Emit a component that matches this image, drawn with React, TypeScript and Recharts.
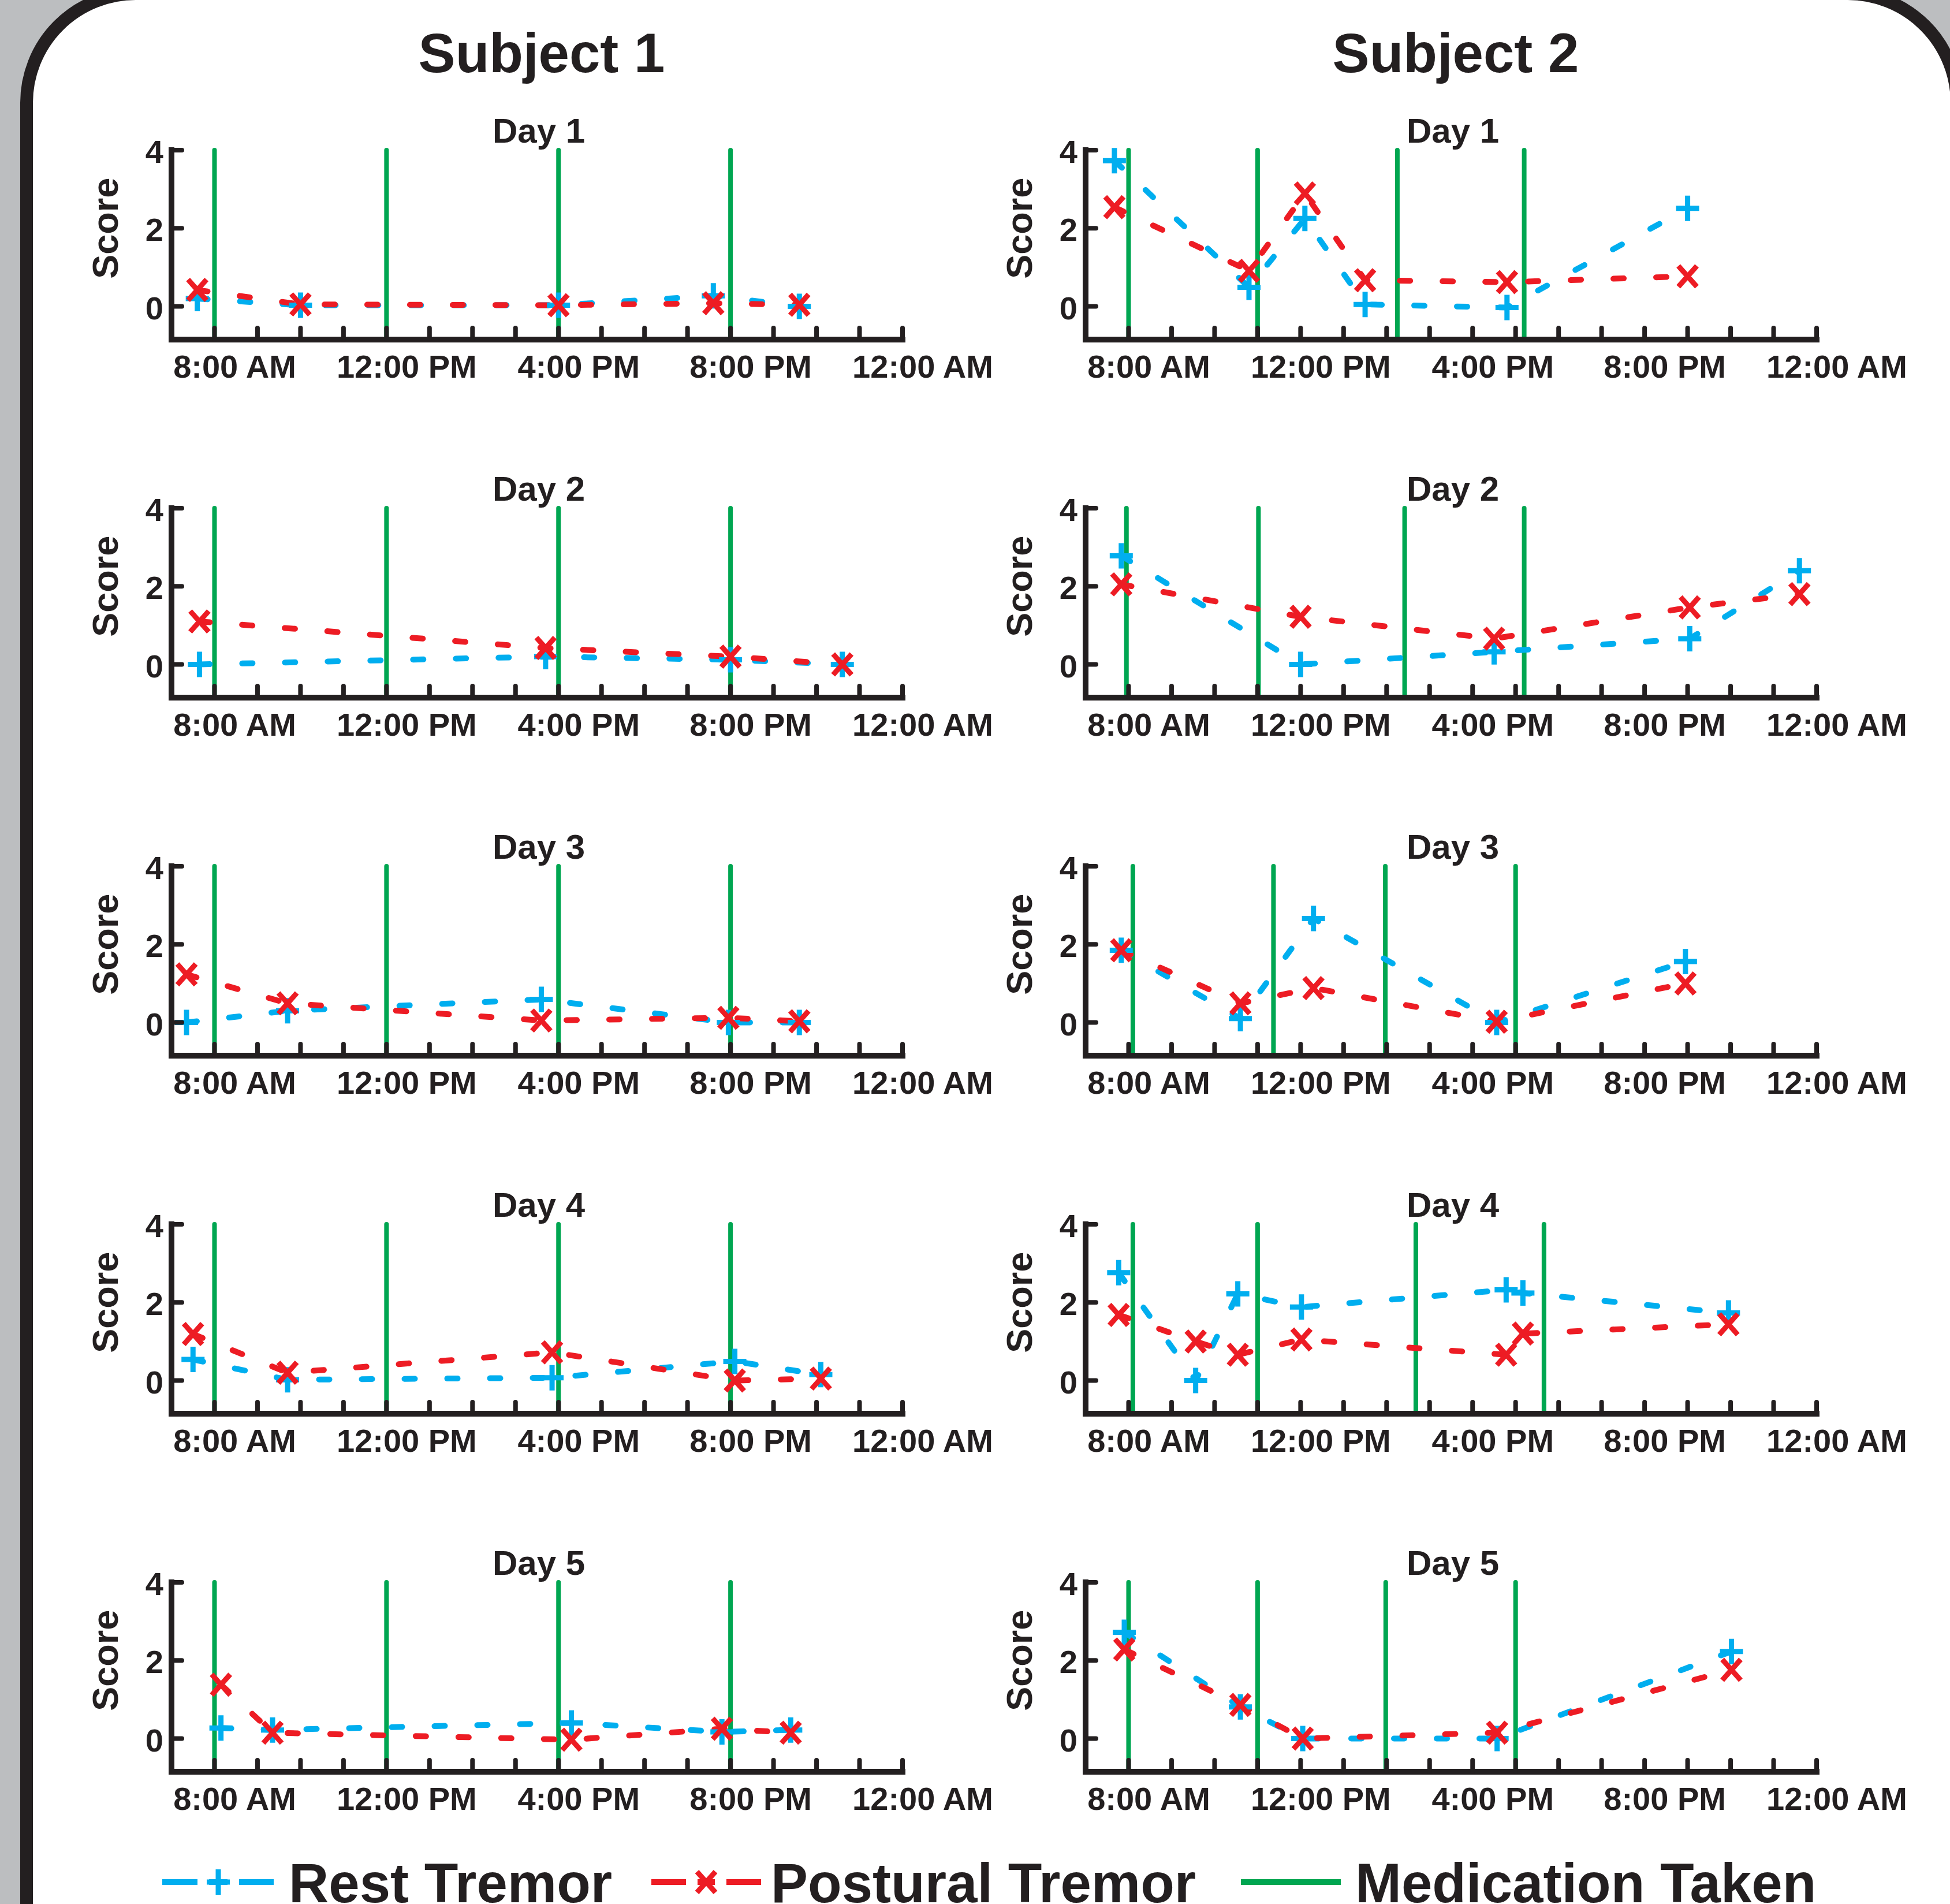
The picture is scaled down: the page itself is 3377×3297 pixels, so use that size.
import { LineChart, Line, XAxis, YAxis, ReferenceLine } from 'recharts';

// times are hours since midnight, scores 0-4
const s1d1Time = [7.6, 10.0, 16.0, 19.6, 21.6];
const s1d1Rest = [0.2, 0.03, 0.03, 0.27, 0.0];
const s1d1Post = [0.42, 0.05, 0.03, 0.08, 0.04];
const s1d1Meds = [8, 12, 16, 20];

const s1d2Time = [7.65, 15.7, 20.0, 22.6];
const s1d2Rest = [0.0, 0.2, 0.12, 0.0];
const s1d2Post = [1.1, 0.42, 0.2, 0.0];
const s1d2Meds = [8, 12, 16, 20];

const s1d3Time = [7.35, 9.7, 15.6, 19.95, 21.6];
const s1d3Rest = [0.0, 0.3, 0.59, 0.0, 0.0];
const s1d3Post = [1.23, 0.49, 0.05, 0.12, 0.03];
const s1d3Meds = [8, 12, 16, 20];

const s1d4Time = [7.5, 9.7, 15.85, 20.1, 22.1];
const s1d4Rest = [0.54, 0.02, 0.07, 0.49, 0.15];
const s1d4Post = [1.19, 0.2, 0.72, 0.0, 0.05];
const s1d4Meds = [8, 12, 16, 20];

const s1d5Time = [8.15, 9.35, 16.3, 19.8, 21.4];
const s1d5Rest = [0.27, 0.22, 0.4, 0.17, 0.22];
const s1d5Post = [1.38, 0.15, -0.03, 0.25, 0.15];
const s1d5Meds = [8, 12, 16, 20];

const s2d1Time = [7.67, 10.8, 12.1, 13.5, 16.8, 21.0];
const s2d1Rest = [3.73, 0.49, 2.25, 0.05, -0.03, 2.51];
const s2d1Post = [2.54, 0.91, 2.89, 0.67, 0.62, 0.77];
const s2d1Meds = [8.0, 11.0, 14.25, 17.2];

const s2d2Time = [7.83, 12.0, 16.5, 21.05, 23.6];
const s2d2Rest = [2.78, 0.0, 0.32, 0.66, 2.4];
const s2d2Post = [2.05, 1.22, 0.66, 1.46, 1.8];
const s2d2Meds = [7.95, 11.02, 14.42, 17.2];

const s2d3Time = [7.83, 10.6, 12.3, 16.56, 20.95];
const s2d3Rest = [1.85, 0.1, 2.66, 0.0, 1.56];
const s2d3Post = [1.85, 0.49, 0.88, 0.02, 1.0];
const s2d3Meds = [8.1, 11.37, 13.97, 17.0];

const s2d4Time = [7.77, 9.56, 10.54, 12.02, 16.78, 17.17, 21.95];
const s2d4Rest = [2.76, 0.0, 2.22, 1.88, 2.32, 2.24, 1.73];
const s2d4Post = [1.68, 1.0, 0.66, 1.05, 0.66, 1.2, 1.44];
const s2d4Meds = [8.1, 11.0, 14.68, 17.66];

const s2d5Time = [7.9, 10.6, 12.05, 16.57, 22.02];
const s2d5Rest = [2.72, 0.81, 0.0, 0.0, 2.23];
const s2d5Post = [2.28, 0.86, 0.0, 0.15, 1.76];
const s2d5Meds = [8.0, 11.0, 13.98, 17.0];

const subjects = ['Subject 1', 'Subject 2'];
const hourTicks = [7, 8, 9, 10, 11, 12, 13, 14, 15, 16, 17, 18, 19, 20, 21, 22, 23, 24];
const labelHours = [8, 12, 16, 20, 24];
const labelTexts = ['8:00 AM', '12:00 PM', '4:00 PM', '8:00 PM', '12:00 AM'];
const scoreTicks = [0, 2, 4];
const legendNames = ['Rest Tremor', 'Postural Tremor', 'Medication Taken'];

const INK = '#231f20';
const BLUE = '#00aeef';
const RED = '#ed1c24';
const GREEN = '#00a651';
const GRAY = '#bcbec0';
const FONT = '"Liberation Sans", Arial, Helvetica, sans-serif';

// layout
const PLOT_X = [297, 1880];
const PLOT_TOP = 260;
const ROW_STEP = 620;
const PLOT_W = 1266;
const PLOT_H = 328;
const Y_MIN = -0.85;
const M_TOP = 80;
const M_LEFT = 80;
const Y_AXIS_W = 120;
const M_RIGHT = 220;
const X_AXIS_H = 110;

const panels = [
  { col: 0, row: 0, time: s1d1Time, rest: s1d1Rest, post: s1d1Post, meds: s1d1Meds },
  { col: 0, row: 1, time: s1d2Time, rest: s1d2Rest, post: s1d2Post, meds: s1d2Meds },
  { col: 0, row: 2, time: s1d3Time, rest: s1d3Rest, post: s1d3Post, meds: s1d3Meds },
  { col: 0, row: 3, time: s1d4Time, rest: s1d4Rest, post: s1d4Post, meds: s1d4Meds },
  { col: 0, row: 4, time: s1d5Time, rest: s1d5Rest, post: s1d5Post, meds: s1d5Meds },
  { col: 1, row: 0, time: s2d1Time, rest: s2d1Rest, post: s2d1Post, meds: s2d1Meds },
  { col: 1, row: 1, time: s2d2Time, rest: s2d2Rest, post: s2d2Post, meds: s2d2Meds },
  { col: 1, row: 2, time: s2d3Time, rest: s2d3Rest, post: s2d3Post, meds: s2d3Meds },
  { col: 1, row: 3, time: s2d4Time, rest: s2d4Rest, post: s2d4Post, meds: s2d4Meds },
  { col: 1, row: 4, time: s2d5Time, rest: s2d5Rest, post: s2d5Post, meds: s2d5Meds },
];

const plusPath = (x: number, y: number) => `M${x - 20},${y}H${x + 20}M${x},${y - 22}V${y + 22}`;
const crossPath = (x: number, y: number) =>
  `M${x - 16},${y - 18}L${x + 16},${y + 18}M${x + 16},${y - 18}L${x - 16},${y + 18}`;

const PlusDot = (p: any) => (
  <path key={`r${p.index}`} d={plusPath(p.cx, p.cy)} stroke={BLUE} strokeWidth={9} fill="none" />
);
const CrossDot = (p: any) => (
  <path key={`p${p.index}`} d={crossPath(p.cx, p.cy)} stroke={RED} strokeWidth={9} fill="none" />
);

const XTick = (p: any) => {
  const { x, y, payload } = p;
  const li = labelHours.indexOf(payload.value);
  return (
    <g>
      {payload.value > 7 && (
        <line x1={x} x2={x} y1={y} y2={y - 20} stroke={INK} strokeWidth={8} strokeLinecap="round" />
      )}
      {li >= 0 && (
        <text x={x + 35} y={y + 66} textAnchor="middle" fontFamily={FONT} fontWeight="bold" fontSize={56} fill={INK}>
          {labelTexts[li]}
        </text>
      )}
    </g>
  );
};

const YTick = (p: any) => {
  const { x, y, payload } = p;
  return (
    <g>
      <line x1={x} x2={x + 18} y1={y} y2={y} stroke={INK} strokeWidth={8} strokeLinecap="round" />
      <text x={x - 14} y={y + 22} textAnchor="end" fontFamily={FONT} fontWeight="bold" fontSize={56} fill={INK}>
        {payload.value}
      </text>
    </g>
  );
};

function Panel({ col, row, time, rest, post, meds }: any) {
  const data = time.map((t: number, i: number) => ({ t, rest: rest[i], post: post[i] }));
  const left = PLOT_X[col] - M_LEFT - Y_AXIS_W;
  const top = PLOT_TOP + row * ROW_STEP - M_TOP;
  return (
    <div style={{ position: 'absolute', left, top }}>
      <LineChart
        width={M_LEFT + Y_AXIS_W + PLOT_W + M_RIGHT}
        height={M_TOP + PLOT_H + X_AXIS_H}
        data={data}
        margin={{ top: M_TOP, right: M_RIGHT, bottom: 0, left: M_LEFT }}
      >
        <XAxis
          type="number"
          dataKey="t"
          domain={[7, 24]}
          ticks={hourTicks}
          interval={0}
          height={X_AXIS_H}
          tickSize={0}
          tickMargin={0}
          tickLine={false}
          axisLine={{ stroke: INK, strokeWidth: 10, strokeLinecap: 'square' }}
          tick={XTick}
        />
        <YAxis
          type="number"
          domain={[Y_MIN, 4]}
          ticks={scoreTicks}
          interval={0}
          width={Y_AXIS_W}
          tickSize={0}
          tickMargin={0}
          tickLine={false}
          axisLine={{ stroke: INK, strokeWidth: 10, strokeLinecap: 'square' }}
          tick={YTick}
        />
        {meds.map((m: number) => (
          <ReferenceLine key={m} x={m} stroke={GREEN} strokeWidth={8} strokeLinecap="round" />
        ))}
        <Line
          type="linear"
          dataKey="rest"
          stroke={BLUE}
          strokeWidth={10}
          strokeDasharray="18 56"
          strokeLinecap="round"
          dot={PlusDot}
          activeDot={false}
          isAnimationActive={false}
        />
        <Line
          type="linear"
          dataKey="post"
          stroke={RED}
          strokeWidth={10}
          strokeDasharray="18 56"
          strokeLinecap="round"
          dot={CrossDot}
          activeDot={false}
          isAnimationActive={false}
        />
      </LineChart>
    </div>
  );
}

const unitPx = PLOT_H / (4 - Y_MIN);

function Overlay() {
  const txt = { fontFamily: FONT, fontWeight: 'bold' as const, fill: INK };
  const legendY = 3259;
  return (
    <svg width={3377} height={3297} style={{ position: 'absolute', left: 0, top: 0, pointerEvents: 'none' }}>
      {subjects.map((s, c) => (
        <text key={s} x={PLOT_X[c] + PLOT_W / 2 + 8} y={125} textAnchor="middle" fontSize={96} {...txt}>
          {s}
        </text>
      ))}
      {panels.map((p) => {
        const top = PLOT_TOP + p.row * ROW_STEP;
        const sx = PLOT_X[p.col] - 93;
        const sy = top + 2 * unitPx;
        return (
          <g key={`${p.col}-${p.row}`}>
            <text x={PLOT_X[p.col] + PLOT_W / 2 + 3} y={top - 13} textAnchor="middle" fontSize={60} {...txt}>
              {`Day ${p.row + 1}`}
            </text>
            <text
              x={sx}
              y={sy}
              textAnchor="middle"
              fontSize={63}
              transform={`rotate(-90 ${sx} ${sy})`}
              {...txt}
            >
              Score
            </text>
          </g>
        );
      })}
      <line x1={281} x2={474} y1={legendY} y2={legendY} stroke={BLUE} strokeWidth={10} strokeDasharray="61 20 32 20 61" />
      <path d={plusPath(378, legendY)} stroke={BLUE} strokeWidth={9} fill="none" />
      <text x={500} y={3294} fontSize={96} {...txt}>{legendNames[0]}</text>
      <line x1={1128} x2={1318} y1={legendY} y2={legendY} stroke={RED} strokeWidth={10} strokeDasharray="60 20 30 20 60" />
      <path d={crossPath(1223, legendY)} stroke={RED} strokeWidth={9} fill="none" />
      <text x={1335} y={3294} fontSize={96} {...txt}>{legendNames[1]}</text>
      <line x1={2149} x2={2322} y1={legendY} y2={legendY} stroke={GREEN} strokeWidth={10} />
      <text x={2347} y={3294} fontSize={96} {...txt}>{legendNames[2]}</text>
    </svg>
  );
}

export default function App() {
  return (
    <div
      style={{
        position: 'absolute',
        left: 0,
        top: 0,
        width: 3377,
        height: 3297,
        background: GRAY,
        overflow: 'hidden',
      }}
    >
      <div
        style={{
          position: 'absolute',
          left: 35,
          top: -22,
          width: 3365,
          height: 3700,
          boxSizing: 'border-box',
          border: `22px solid ${INK}`,
          borderRadius: 200,
          background: '#ffffff',
        }}
      />
      {panels.map((p) => (
        <Panel key={`${p.col}-${p.row}`} {...p} />
      ))}
      <Overlay />
    </div>
  );
}
